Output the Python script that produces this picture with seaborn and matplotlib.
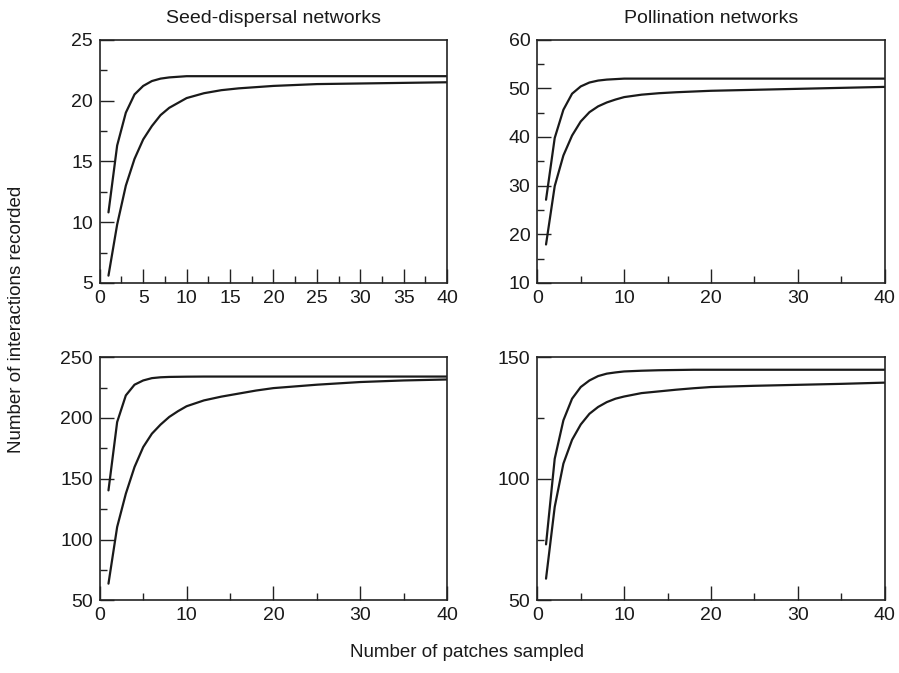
import numpy as np
import pandas as pd
import matplotlib
matplotlib.use("Agg")
import matplotlib.pyplot as plt
import seaborn as sns
from matplotlib.ticker import MultipleLocator

##### DATA #####
patches = [1, 2, 3, 4, 5, 6, 7, 8, 9, 10, 12, 14, 16, 18, 20, 25, 30, 35, 40]

seed_a_upper = [10.8, 16.3, 19.0, 20.5, 21.2, 21.6, 21.8, 21.9, 21.95, 22.0, 22.0, 22.0, 22.0, 22.0, 22.0, 22.0, 22.0, 22.0, 22.0]
seed_a_lower = [5.6, 9.8, 13.0, 15.2, 16.8, 17.9, 18.8, 19.4, 19.8, 20.2, 20.6, 20.85, 21.0, 21.1, 21.2, 21.35, 21.4, 21.45, 21.5]

poll_a_upper = [27.1, 39.8, 45.6, 48.9, 50.4, 51.2, 51.6, 51.8, 51.9, 52.0, 52.0, 52.0, 52.0, 52.0, 52.0, 52.0, 52.0, 52.0, 52.0]
poll_a_lower = [17.9, 29.9, 36.2, 40.3, 43.2, 45.1, 46.3, 47.1, 47.7, 48.2, 48.7, 49.0, 49.2, 49.35, 49.5, 49.7, 49.9, 50.1, 50.3]

seed_b_upper = [140.4, 196.6, 218.5, 227.3, 230.8, 232.7, 233.4, 233.7, 233.8, 233.9, 234.0, 234.0, 234.0, 234.0, 234.0, 234.0, 234.0, 234.0, 234.0]
seed_b_lower = [63.7, 110.3, 137.7, 159.6, 176.0, 187.0, 194.5, 200.8, 205.5, 209.6, 214.4, 217.5, 220.0, 222.5, 224.5, 227.3, 229.5, 230.8, 231.6]

poll_b_upper = [73.0, 108.2, 124.0, 132.9, 137.7, 140.4, 142.2, 143.2, 143.7, 144.1, 144.4, 144.6, 144.7, 144.8, 144.8, 144.8, 144.8, 144.8, 144.8]
poll_b_lower = [58.9, 88.4, 106.2, 116.0, 122.3, 126.7, 129.5, 131.5, 132.9, 133.8, 135.2, 135.9, 136.6, 137.2, 137.7, 138.2, 138.6, 139.0, 139.5]

titles = ["Seed-dispersal networks", "Pollination networks"]

##### STYLE #####
sns.set_theme(style="white")
plt.rcParams['font.family'] = ['Liberation Sans', 'DejaVu Sans']

fig, axes = plt.subplots(2, 2, figsize=(8.99, 6.73), dpi=100)
plt.subplots_adjust(left=0.111, right=0.984, top=0.941, bottom=0.108, wspace=0.26, hspace=0.305)

panels = [
    (axes[0, 0], seed_a_upper, seed_a_lower, (5, 25), 5, 2.5, 5, 2.5),
    (axes[0, 1], poll_a_upper, poll_a_lower, (10, 60), 10, 5, 10, 5),
    (axes[1, 0], seed_b_upper, seed_b_lower, (50, 250), 50, 25, 10, 5),
    (axes[1, 1], poll_b_upper, poll_b_lower, (50, 150), 50, 25, 10, 5),
]

for ax, up, lo, ylim, ymaj, ymin, xmaj, xmin in panels:
    df = pd.DataFrame({"patches": patches * 2,
                       "interactions": up + lo,
                       "curve": ["upper"] * len(up) + ["lower"] * len(lo)})
    sns.lineplot(data=df, x="patches", y="interactions", units="curve",
                 estimator=None, color="#1a1a1a", linewidth=1.6, ax=ax)
    ax.set_xlim(0, 40)
    ax.set_ylim(*ylim)
    ax.xaxis.set_major_locator(MultipleLocator(xmaj))
    ax.xaxis.set_minor_locator(MultipleLocator(xmin))
    ax.yaxis.set_major_locator(MultipleLocator(ymaj))
    ax.yaxis.set_minor_locator(MultipleLocator(ymin))
    ax.tick_params(which="major", direction="in", length=10, width=1.0, color="#222222",
                   labelsize=14, pad=5, labelcolor="#1a1a1a",
                   bottom=True, left=True, top=False, right=False)
    ax.tick_params(which="minor", direction="in", length=5, width=1.0, color="#222222",
                   bottom=True, left=True, top=False, right=False)
    ax.set_xlabel("")
    ax.set_ylabel("")
    for sp in ax.spines.values():
        sp.set_color("#222222")
        sp.set_linewidth(1.2)

for ax, t in zip(axes[0], titles):
    ax.set_title(t, fontsize=14, pad=12, color="#1a1a1a")

fig.text(0.52, 0.031, "Number of patches sampled", ha="center", va="center",
         fontsize=13.5, color="#1a1a1a")
fig.text(0.018, 0.525, "Number of interactions recorded", ha="center", va="center",
         rotation=90, fontsize=13.5, color="#1a1a1a")

plt.savefig("out.png", dpi=100)
